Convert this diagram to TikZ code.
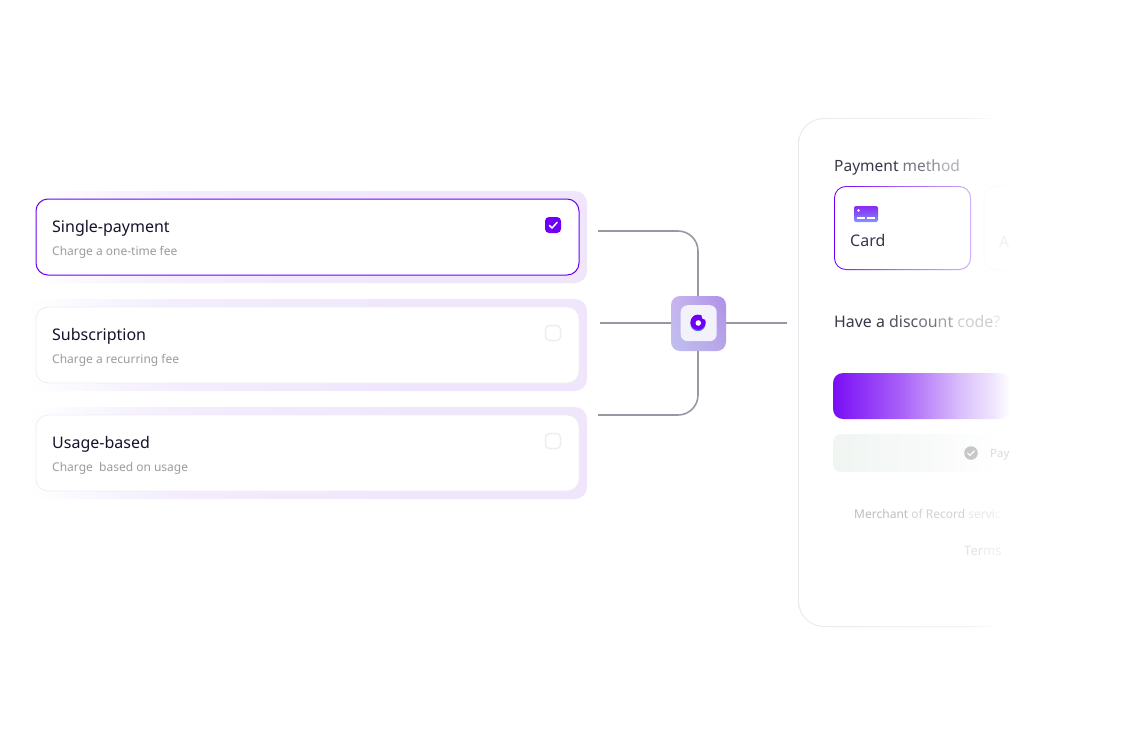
\documentclass[tikz,border=0pt]{standalone}
\usepackage{fontspec}
\usetikzlibrary{shadings}
\setmainfont{Noto Sans}
\definecolor{ink}{HTML}{16132A}
\definecolor{subgrey}{HTML}{9B9BA1}
\definecolor{purp}{HTML}{6F00F5}
\definecolor{halo}{HTML}{EFE6FC}
\definecolor{halomid}{HTML}{F3EDFD}
\definecolor{wire}{HTML}{9A97A3}
\definecolor{cardedge}{HTML}{EEEEF2}
\definecolor{btnA}{HTML}{7A0EF5}
\definecolor{btnB}{HTML}{A860F8}
\definecolor{btnC}{HTML}{D9BFFB}
\definecolor{btnD}{HTML}{EFE4FD}
\definecolor{greenA}{HTML}{F0F5F2}
\definecolor{greenB}{HTML}{F8FAF9}
\definecolor{cardB}{HTML}{C9A8FA}
\definecolor{panelA}{HTML}{E8E8EE}
\definecolor{panelB}{HTML}{F1F1F5}
\definecolor{hubUL}{HTML}{C9B5EE}
\definecolor{hubUR}{HTML}{AE90E8}
\definecolor{hubLL}{HTML}{BEC0EE}
\definecolor{hubLR}{HTML}{B8A5E8}
\definecolor{hubcore}{HTML}{F3F2FA}
\definecolor{donutblue}{HTML}{5A6CF0}
\definecolor{iconA}{HTML}{8A2BF2}
\definecolor{iconB}{HTML}{8458F6}
\definecolor{iconC}{HTML}{7C9BFF}
\pgfdeclarehorizontalshading{haloshade}{100bp}{color(0bp)=(white); color(25bp)=(white); color(38bp)=(halomid); color(60bp)=(halo); color(100bp)=(halo)}
\pgfdeclarehorizontalshading{btnshade}{100bp}{color(0bp)=(btnA); color(25bp)=(btnA); color(44bp)=(btnB); color(61bp)=(btnC); color(70bp)=(btnD); color(75bp)=(white); color(100bp)=(white)}
\pgfdeclarehorizontalshading{greenshade}{100bp}{color(0bp)=(greenA); color(25bp)=(greenA); color(52bp)=(greenB); color(72bp)=(white); color(100bp)=(white)}
\pgfdeclarehorizontalshading{cardshade}{100bp}{color(0bp)=(purp); color(25bp)=(purp); color(50bp)=(btnB); color(75bp)=(cardB); color(100bp)=(cardB)}
\pgfdeclarehorizontalshading{panelshade}{100bp}{color(0bp)=(panelA); color(25bp)=(panelA); color(65bp)=(panelB); color(75bp)=(white); color(100bp)=(white)}
\tikzset{
  px/.style={x=1pt,y=-1pt},
  boxy/.style={rectangle,inner sep=0pt,outer sep=0pt,anchor=north west},
  halobox/.style={boxy,minimum width=559pt,minimum height=92pt,rounded corners=12pt,shading=haloshade},
  optcard/.style={boxy,minimum width=543pt,minimum height=76pt,rounded corners=12pt,fill=white,draw=cardedge,line width=.8pt},
  optcardon/.style={optcard,draw=purp,line width=1pt},
  titletext/.style={anchor=base west,inner sep=0pt,font=\fontsize{16}{18}\selectfont,text=ink},
  subtext/.style={anchor=base west,inner sep=0pt,font=\fontsize{12}{14}\selectfont,text=subgrey},
  tick/.style={boxy,minimum size=15pt,rounded corners=4pt,fill=white,draw=cardedge,line width=1.5pt},
  tickon/.style={boxy,minimum size=16pt,rounded corners=4pt,fill=purp},
  wireline/.style={draw=wire,line width=1.6pt},
  paneltext/.style={anchor=base west,inner sep=0pt,font=\fontsize{15.5}{18}\selectfont},
}
\newcommand{\fadetxt}[2]{\textcolor[HTML]{#1}{#2}}
\begin{document}
\begin{tikzpicture}[px]
\useasboundingbox (0,0) rectangle (1137,744);
% connectors endpoints
\coordinate (wa) at (598,231);
\coordinate (wb) at (600,323);
\coordinate (wc) at (598,415);
\coordinate (wd) at (787,323);
% option cards
\node[halobox] (h1) at (28,191) {};
\node[halobox] (h2) at (28,299) {};
\node[halobox] (h3) at (28,407) {};
\node[optcardon] (o1) at (36,199) {};
\node[optcard] (o2) at (36,307) {};
\node[optcard] (o3) at (36,415) {};
\node[titletext] (t1) at (52,232) {Single-payment};
\node[subtext] (s1) at (52,255) {Charge a one-time fee};
\node[titletext] (t2) at (52,340) {Subscription};
\node[subtext] (s2) at (52,363) {Charge a recurring fee};
\node[titletext] (t3) at (52,448) {Usage-based};
\node[subtext] (s3) at (52,471) {Charge\ \ based on usage};
\node[tickon] (k1) at (545,217) {};
\draw[white,line width=1.5pt,line cap=round,line join=round] (549.5,225.5) -- (552,228) -- (557,222.5);
\node[tick] (k2) at (545.5,325.5) {};
\node[tick] (k3) at (545.5,433.5) {};
% hub
\coordinate (hubc) at (698,323);
\draw[wireline,rounded corners=20pt] (wa) -| (hubc);
\draw[wireline,rounded corners=20pt] (wc) -| (hubc);
\draw[wireline] (wb) -- (hubc);
\draw[wireline] (hubc) -- (wd);
\node[rectangle,minimum size=55pt,inner sep=0pt,outer sep=0pt,rounded corners=9pt,
  upper left=hubUL,upper right=hubUR,lower left=hubLL,lower right=hubLR] (hub) at (698.5,323.5) {};
\node[rectangle,minimum size=36pt,inner sep=0pt,rounded corners=7pt,fill=hubcore] (hubin) at (698.7,323.2) {};
\fill[donutblue] (698,323.6) circle (7.6pt);
\fill[purp] (698,322.2) circle (7.6pt);
\fill[white] (698.3,323) circle (2.8pt);
\fill[hubcore] (705,316.3) circle (3.4pt);
% panel
\node[boxy,minimum width=212pt,minimum height=509pt,rounded corners=26pt,shading=panelshade] (panel) at (798,118) {};
\node[boxy,minimum width=214pt,minimum height=507pt,rounded corners=25pt,fill=white] (panelin) at (799,119) {};
\node[paneltext] (pm) at (834,171) {\fadetxt{3A3848}{Payment}\ \fadetxt{77757F}{me}\fadetxt{8F8D95}{th}\fadetxt{B0AEB4}{od}};
\node[boxy,minimum width=137pt,minimum height=84pt,rounded corners=12pt,shading=cardshade] (cardout) at (834,186) {};
\node[boxy,minimum width=135pt,minimum height=82pt,rounded corners=11pt,fill=white] (cardin) at (835,187) {};
\node[boxy,minimum width=24pt,minimum height=16pt,rounded corners=2pt,top color=iconA,bottom color=iconC,middle color=iconB] (ci) at (854,206) {};
\fill[white] (858.5,210.5) circle (1.4pt);
\fill[white] (857,217) rectangle (865,219);
\fill[white] (867,217) rectangle (875,219);
\node[paneltext,font=\fontsize{16}{18}\selectfont,text=ink!85!white] (ct) at (850,246) {Card};
\node[boxy,minimum width=40pt,minimum height=84pt,rounded corners=12pt,draw=black!2,line width=.6pt] (card2) at (984,186) {};
\node[paneltext,text=black!6] (al) at (999,247) {Al};
\fill[white] (1010,110) rectangle (1040,640);
\node[paneltext,font=\fontsize{15.9}{18}\selectfont] (dc) at (834,327) {\fadetxt{3A3848}{Have a}\ \fadetxt{55535F}{disc}\fadetxt{77757F}{ou}\fadetxt{A3A1A8}{nt}\ \fadetxt{CFCED2}{code}\fadetxt{E8E8EA}{?}};
\node[boxy,minimum width=177pt,minimum height=46pt,rounded corners=10pt,shading=btnshade] (btn) at (833,373) {};
\node[boxy,minimum width=177pt,minimum height=38pt,rounded corners=8pt,shading=greenshade] (grn) at (833,434) {};
\fill[black!22] (971,453) circle (6.8pt);
\draw[white,line width=1.2pt,line cap=round,line join=round] (967.6,453) -- (970,455.4) -- (974.3,450.8);
\node[anchor=base west,inner sep=0pt,font=\fontsize{11.5}{14}\selectfont,text=black!14] (pay) at (990,457) {Pay};
\node[anchor=base west,inner sep=0pt,font=\fontsize{12}{14}\selectfont] (mor) at (854,518) {\fadetxt{BDBDC1}{Merchant}\ \fadetxt{D2D2D5}{of Record}\ \fadetxt{E8E8EA}{servi}\fadetxt{F4F4F5}{c}};
\node[anchor=base west,inner sep=0pt,font=\fontsize{13}{16}\selectfont] (tm) at (964,555) {\fadetxt{E3E3E6}{Ter}\fadetxt{EEEEF0}{ms}};
\end{tikzpicture}
\end{document}
